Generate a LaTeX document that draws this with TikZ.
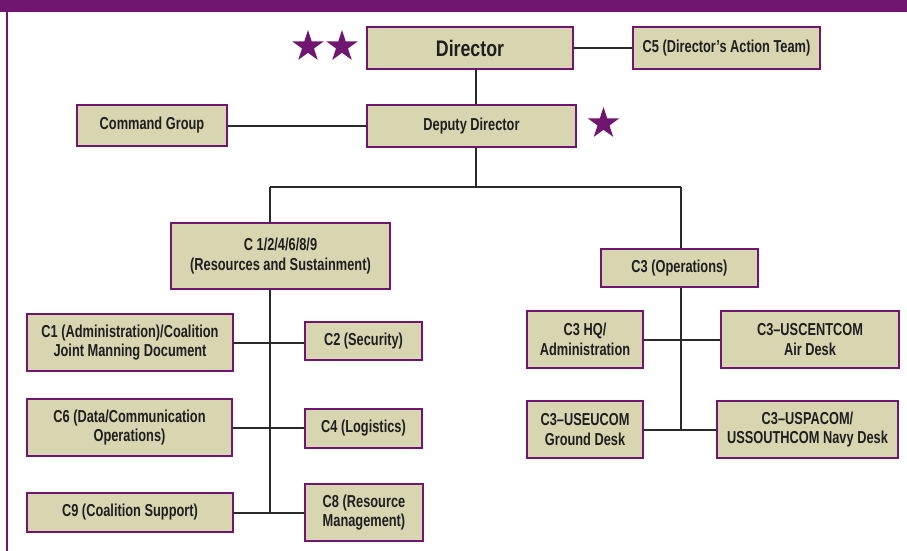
\documentclass[tikz,border=0pt]{standalone}
\usepackage{fontspec}
\setmainfont{Liberation Sans}[FakeStretch=0.74,UprightFont=*-Bold]
\newfontfamily\dirfont{Liberation Sans}[FakeStretch=0.79,UprightFont=*-Bold]
\usetikzlibrary{shapes.geometric}
\definecolor{hdrpurple}{HTML}{701670}
\definecolor{boxfill}{HTML}{D8D5B1}
\definecolor{linegray}{HTML}{2A2A2A}
\tikzset{
  orgbox/.style={draw=hdrpurple, line width=2.2pt, fill=boxfill, align=center,
    inner sep=0pt, font=\fontsize{17.3}{19.5}\selectfont, text=black!88},
  conn/.style={draw=linegray, line width=2pt},
  rankstar/.style={star, star points=5, star point ratio=2.618, fill=hdrpurple,
    inner sep=0pt, minimum size=33pt, draw=none}
}
\begin{document}
\begin{tikzpicture}[x=1pt,y=-1pt]
\useasboundingbox (0,0) rectangle (907,551);
% frame
\fill[hdrpurple] (0,0) rectangle (907,12.5);
\draw[hdrpurple, line width=2.3pt] (7,12) -- (7,551);

% top level
\node[orgbox, minimum width=206pt, minimum height=42pt, font=\dirfont\fontsize{22.5}{26}\selectfont] (dir) at (470,48) {Director};
\node[orgbox, minimum width=187pt, minimum height=42pt] (c5) at (726.5,48) {C5 (Director’s Action Team)};
\node[orgbox, minimum width=209pt, minimum height=42pt] (dep) at (471.5,126) {Deputy Director};
\node[orgbox, minimum width=150pt, minimum height=41pt] (cmd) at (152,125.5) {Command Group};

\node[rankstar] (s1) at (308,46.5) {};
\node[rankstar] (s2) at (342,46.5) {};
\node[rankstar] (s3) at (603.5,123.5) {};

% left branch
\node[orgbox, minimum width=219pt, minimum height=66pt] (res) at (280.5,256) {C 1/2/4/6/8/9\\(Resources and Sustainment)};
\node[orgbox, minimum width=206pt, minimum height=57pt] (c1) at (130,342.5) {C1 (Administration)/Coalition\\Joint Manning Document};
\node[orgbox, minimum width=117pt, minimum height=38pt] (c2) at (363.5,341) {C2 (Security)};
\node[orgbox, minimum width=205pt, minimum height=57pt] (c6) at (129.5,427.5) {C6 (Data/Communication\\Operations)};
\node[orgbox, minimum width=117pt, minimum height=39pt] (c4) at (363.5,428.5) {C4 (Logistics)};
\node[orgbox, minimum width=206pt, minimum height=39pt] (c9) at (130,512.5) {C9 (Coalition Support)};
\node[orgbox, minimum width=118pt, minimum height=57pt] (c8) at (364,512.5) {C8 (Resource\\Management)};

% right branch
\node[orgbox, minimum width=157pt, minimum height=38pt] (ops) at (679.5,268) {C3 (Operations)};
\node[orgbox, minimum width=116pt, minimum height=57pt] (hq) at (585,339.5) {C3 HQ/\\Administration};
\node[orgbox, minimum width=178pt, minimum height=57pt] (cent) at (810,339.5) {C3–USCENTCOM\\Air Desk};
\node[orgbox, minimum width=116pt, minimum height=57pt] (eucom) at (585,429.5) {C3–USEUCOM\\Ground Desk};
\node[orgbox, minimum width=181pt, minimum height=57pt] (pacom) at (807.5,429.5) {C3–USPACOM/\\USSOUTHCOM Navy Desk};

% trunk coordinates
\coordinate (tM) at (476,187);
\coordinate (tL) at (270,187);
\coordinate (tR) at (681,187);

% connectors
\path[conn] (dir.east) -- (c5.west);
\path[conn] (cmd.east) -- (cmd.east -| dep.west);
\path[conn] (dir.south -| tM) -- (dep.north -| tM);
\path[conn] (dep.south -| tM) -- (tM);
\path[conn] (tL) -- (tR);
\path[conn] (tL) -- (res.north -| tL);
\path[conn] (res.south -| tL) -- (tL |- c9.east);
\path[conn] (c1.east) -- (c1.east -| c2.west);
\path[conn] (c6.east) -- (c6.east -| c4.west);
\path[conn] (c9.east) -- (c9.east -| c8.west);
\path[conn] (tR) -- (ops.north -| tR);
\path[conn] (ops.south -| tR) -- (tR |- eucom.east);
\path[conn] (hq.east) -- (hq.east -| cent.west);
\path[conn] (eucom.east) -- (eucom.east -| pacom.west);
\end{tikzpicture}
\end{document}
